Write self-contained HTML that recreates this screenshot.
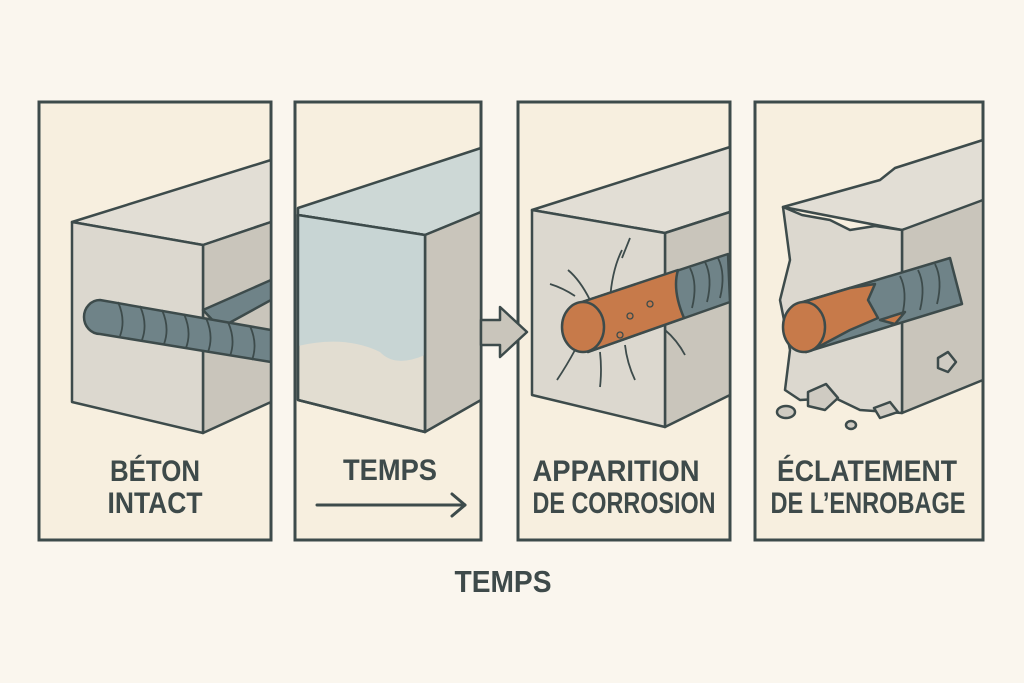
<!DOCTYPE html>
<html><head><meta charset="utf-8"><style>
html,body{margin:0;padding:0;background:#faf6ee;}
svg{display:block;}
text{font-family:"Liberation Sans",sans-serif;font-weight:bold;fill:#3e4a4a;}
</style></head><body>
<svg width="1024" height="683" viewBox="0 0 1024 683" xmlns="http://www.w3.org/2000/svg">
<rect width="1024" height="683" fill="#faf6ee"/>
<g stroke="#3d4b4b" stroke-width="3" fill="#f7efdf">
<rect x="39" y="102" width="232" height="438"/>
<rect x="295" y="102" width="186" height="438"/>
<rect x="518" y="102" width="212" height="438"/>
<rect x="755" y="102" width="228" height="438"/>
</g>
<g stroke="#3d4b4b" stroke-width="2.5" stroke-linejoin="round">
<!-- Block 1 -->
<polygon points="72,222 271,160 271,222 203,245" fill="#e2ded5"/>
<polygon points="203,245 271,222 271,402 203,433" fill="#c9c5bb"/>
<polygon points="72,222 203,245 203,433 72,402" fill="#dcd8cf"/>
<polygon points="203,310 271,280 271,300 220,328" fill="#6f8388"/>
<path d="M100,300 L271,330 L271,362 L100,334 A16,17 0 0 1 100,300 Z" fill="#6f8388"/>
<g fill="none" stroke-width="1.8"><path d="M118,302 q8,18 2,34 M140,306 q8,18 2,34 M162,310 q8,18 2,34 M184,314 q8,18 2,34 M206,318 q8,18 2,34 M228,322 q8,18 2,34 M250,326 q8,18 2,34"/></g>
<!-- Block 2 -->
<polygon points="298,208 481,148 481,212 425,235 298,215" fill="#cdd8d6"/>
<polygon points="425,235 481,212 481,400 425,432" fill="#c9c5bb"/>
<polygon points="298,215 425,235 425,432 298,400" fill="#e2ddd1"/>
<path d="M298,215 L425,235 L425,355 Q395,368 380,352 Q345,335 298,346 Z" fill="#c8d5d4" stroke="none"/>
<polygon points="298,215 425,235 425,432 298,400" fill="none"/>
<!-- arrow -->
<polygon points="481,320 500,320 500,307 527,332 500,357 500,345 481,345" fill="#c9c5bb"/>
<!-- Block 3 -->
<polygon points="532,210 730,147 730,212 665,233" fill="#e2ded5"/>
<polygon points="665,233 730,212 730,395 665,427" fill="#c9c5bb"/>
<polygon points="532,210 665,233 665,427 532,395" fill="#dcd8cf"/>
<g fill="none" stroke-width="1.8">
<path d="M590,300 q-10,-20 -22,-30 M575,296 q-12,-8 -25,-12 M575,350 q-8,15 -18,30 M600,352 q2,18 0,35 M625,345 q2,18 10,35 M665,330 q12,10 20,25 M610,300 q2,-30 12,-50 M622,258 l8,-20"/>
</g>
<polygon points="582,302 728,254 730,302 588,352" fill="#6f8388"/>
<g fill="none" stroke-width="1.8"><path d="M690,268 q8,16 2,40 M705,262 q8,16 2,40 M718,258 q8,16 2,40"/></g>
<path d="M582,302 L678,270 Q672,290 684,318 L588,352 Z" fill="#c77a4a"/>
<ellipse cx="583" cy="327" rx="21" ry="25" fill="#c77a4a"/>
<g fill="none" stroke-width="1.3"><circle cx="630" cy="316" r="3"/><circle cx="650" cy="304" r="3"/><circle cx="620" cy="335" r="3"/></g>
<!-- Block 4 -->
<polygon points="783,207 880,180 895,168 983,140 983,200 955,215 902,230" fill="#e2ded5"/>
<polygon points="902,230 983,200 983,380 902,413" fill="#c9c5bb"/>
<path d="M783,207 L802,215 L830,220 L850,230 L875,226 L902,230 L902,413 L860,410 L835,398 L800,400 L785,390 L790,350 L780,300 L790,260 Z" fill="#dcd8cf"/>
<polygon points="803,302 950,258 962,304 806,352" fill="#6f8388"/>
<g fill="none" stroke-width="1.8"><path d="M900,276 q8,16 2,40 M918,270 q8,16 2,40 M935,264 q8,16 2,40"/></g>
<path d="M803,302 L850,288 L875,284 L868,300 L878,318 L850,330 L820,346 L806,352 Z" fill="#c77a4a"/>
<path d="M880,320 L905,312 L895,324 Z" fill="#c77a4a"/>
<ellipse cx="804" cy="327" rx="21" ry="25" fill="#c77a4a"/>
<polygon points="808,392 826,384 838,398 825,410 808,406" fill="#cfcbc2"/>
<ellipse cx="786" cy="412" rx="9" ry="6" fill="#cfcbc2"/>
<polygon points="874,408 890,402 898,412 880,418" fill="#cfcbc2"/>
<ellipse cx="851" cy="425" rx="5" ry="4" fill="#cfcbc2"/>
<polygon points="938,358 948,352 956,362 948,372 938,368" fill="#cfcbc2"/>
</g>
<!-- labels -->
<text x="155" y="481" font-size="30" text-anchor="middle" textLength="90" lengthAdjust="spacingAndGlyphs">BÉTON</text>
<text x="155" y="513" font-size="30" text-anchor="middle" textLength="95" lengthAdjust="spacingAndGlyphs">INTACT</text>
<text x="390" y="480" font-size="30" text-anchor="middle" textLength="94" lengthAdjust="spacingAndGlyphs">TEMPS</text>
<g stroke="#3d4b4b" stroke-width="3" fill="none" stroke-linecap="round" stroke-linejoin="round">
<line x1="317" y1="505" x2="465" y2="505"/><polyline points="452,494 465,505 452,516"/>
</g>
<text x="616" y="481" font-size="30" text-anchor="middle" textLength="167" lengthAdjust="spacingAndGlyphs">APPARITION</text>
<text x="624" y="513" font-size="30" text-anchor="middle" textLength="183" lengthAdjust="spacingAndGlyphs">DE CORROSION</text>
<text x="867" y="481" font-size="30" text-anchor="middle" textLength="180" lengthAdjust="spacingAndGlyphs">ÉCLATEMENT</text>
<text x="868" y="513" font-size="30" text-anchor="middle" textLength="195" lengthAdjust="spacingAndGlyphs">DE L’ENROBAGE</text>
<text x="503" y="592" font-size="31" text-anchor="middle" textLength="97" lengthAdjust="spacingAndGlyphs">TEMPS</text>
</svg>
</body></html>
